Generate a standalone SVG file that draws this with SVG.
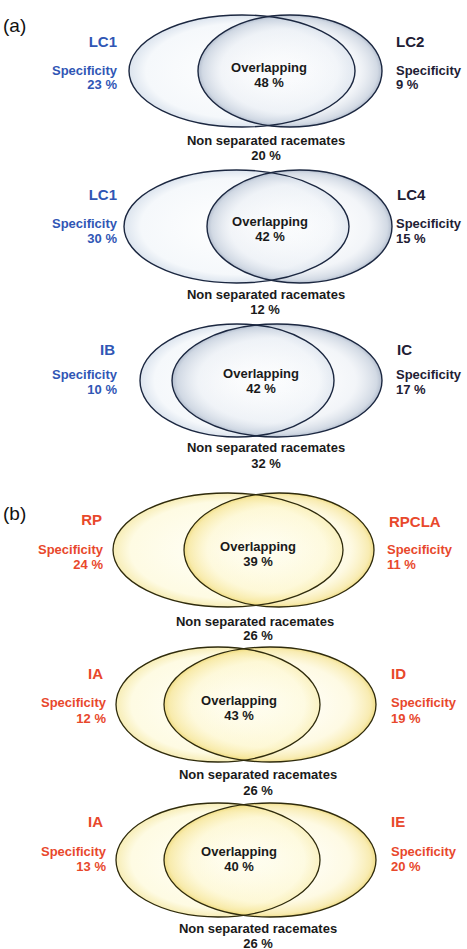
<svg xmlns="http://www.w3.org/2000/svg" width="467" height="949" viewBox="0 0 467 949">
<defs>
<radialGradient id="bL" cx="50%" cy="50%" r="50%">
<stop offset="0" stop-color="#ffffff"/>
<stop offset="0.85" stop-color="#f5f8fb"/>
<stop offset="1" stop-color="#dce4ee"/>
</radialGradient>
<radialGradient id="bR" cx="50%" cy="50%" r="50%">
<stop offset="0" stop-color="#ffffff" stop-opacity="0.2"/>
<stop offset="0.75" stop-color="#e6ebf2" stop-opacity="0.5"/>
<stop offset="0.95" stop-color="#c3cddb" stop-opacity="0.75"/>
<stop offset="1" stop-color="#a6b2c5" stop-opacity="0.85"/>
</radialGradient>
<radialGradient id="yL" cx="50%" cy="50%" r="50%">
<stop offset="0" stop-color="#fffffa"/>
<stop offset="0.85" stop-color="#fefbe3"/>
<stop offset="1" stop-color="#f7edb6"/>
</radialGradient>
<radialGradient id="yR" cx="50%" cy="50%" r="50%">
<stop offset="0" stop-color="#fffef0" stop-opacity="0.2"/>
<stop offset="0.75" stop-color="#fdf5c8" stop-opacity="0.5"/>
<stop offset="0.95" stop-color="#f5e390" stop-opacity="0.7"/>
<stop offset="1" stop-color="#ecd46a" stop-opacity="0.8"/>
</radialGradient>
</defs>
<style>
text{font-family:"Liberation Sans",Arial,sans-serif;font-weight:bold;font-size:13px;}
.panel{font-weight:normal;font-size:19px;fill:#111;}
.lab{font-size:15px;}
.blue{fill:#3056b5;}
.navy{fill:#1e2034;}
.red{fill:#e8482c;}
.dark{fill:#1a1a1a;text-anchor:middle;}
.e{text-anchor:end;}
.bs{fill:none;stroke:#1b2740;stroke-width:1.4;}
.ys{fill:none;stroke:#2f2b0c;stroke-width:1.3;}
</style>
<rect width="467" height="949" fill="#ffffff"/>
<text class="panel" x="3" y="32">(a)</text>
<text class="panel" x="3" y="520">(b)</text>

<g id="d1">
<g id="d1-LC1"><ellipse cx="242" cy="71" rx="113" ry="56" fill="url(#bL)"/>
<text class="blue lab e" x="117" y="47">LC1</text>
<text class="blue e" x="117" y="74.5">Specificity</text>
<text class="blue e" x="117" y="88.5">23 %</text></g>
<g id="d1-LC2"><ellipse cx="290" cy="71" rx="92" ry="56" fill="url(#bR)"/>
<text class="navy lab" x="396" y="47">LC2</text>
<text class="navy" x="396" y="74.5">Specificity</text>
<text class="navy" x="396" y="88.5">9 %</text></g>
<ellipse class="bs" cx="242" cy="71" rx="113" ry="56"/>
<ellipse class="bs" cx="290" cy="71" rx="92" ry="56"/>
<text class="dark" x="269" y="71.5">Overlapping</text>
<text class="dark" x="269" y="86.5">48 %</text>
<text class="dark" x="266" y="144.5">Non separated racemates</text>
<text class="dark" x="266" y="159.5">20 %</text>
</g>

<g id="d2">
<g id="d2-LC1"><ellipse cx="236.5" cy="226.5" rx="112.5" ry="56.5" fill="url(#bL)"/>
<text class="blue lab e" x="117" y="200">LC1</text>
<text class="blue e" x="117" y="227.5">Specificity</text>
<text class="blue e" x="117" y="242.5">30 %</text></g>
<g id="d2-LC4"><ellipse cx="299.5" cy="226.5" rx="92.5" ry="56.5" fill="url(#bR)"/>
<text class="navy lab" x="397" y="200">LC4</text>
<text class="navy" x="396" y="227.5">Specificity</text>
<text class="navy" x="396" y="242.5">15 %</text></g>
<ellipse class="bs" cx="236.5" cy="226.5" rx="112.5" ry="56.5"/>
<ellipse class="bs" cx="299.5" cy="226.5" rx="92.5" ry="56.5"/>
<text class="dark" x="270" y="225.5">Overlapping</text>
<text class="dark" x="270" y="240.5">42 %</text>
<text class="dark" x="266" y="298.5">Non separated racemates</text>
<text class="dark" x="265" y="313.5">12 %</text>
</g>

<g id="d3">
<g id="d3-IB"><ellipse cx="237" cy="380.5" rx="97" ry="56.5" fill="url(#bL)"/>
<text class="blue lab e" x="115" y="355">IB</text>
<text class="blue e" x="117" y="378.5">Specificity</text>
<text class="blue e" x="117" y="393.5">10 %</text></g>
<g id="d3-IC"><ellipse cx="277" cy="380.5" rx="105" ry="56.5" fill="url(#bR)"/>
<text class="navy lab" x="397" y="355">IC</text>
<text class="navy" x="396" y="378.5">Specificity</text>
<text class="navy" x="396" y="393.5">17 %</text></g>
<ellipse class="bs" cx="237" cy="380.5" rx="97" ry="56.5"/>
<ellipse class="bs" cx="277" cy="380.5" rx="105" ry="56.5"/>
<text class="dark" x="261" y="377.5">Overlapping</text>
<text class="dark" x="261" y="392.5">42 %</text>
<text class="dark" x="266" y="451.5">Non separated racemates</text>
<text class="dark" x="266" y="467.5">32 %</text>
</g>

<g id="d4">
<g id="d4-RP"><ellipse cx="228" cy="550" rx="115" ry="57" fill="url(#yL)"/>
<text class="red lab e" x="102" y="525">RP</text>
<text class="red e" x="103" y="553.5">Specificity</text>
<text class="red e" x="103" y="568.5">24 %</text></g>
<g id="d4-RPCLA"><ellipse cx="279" cy="550" rx="95" ry="57" fill="url(#yR)"/>
<text class="red lab" x="389" y="527">RPCLA</text>
<text class="red" x="387" y="553.5">Specificity</text>
<text class="red" x="387" y="568.5">11 %</text></g>
<ellipse class="ys" cx="228" cy="550" rx="115" ry="57"/>
<ellipse class="ys" cx="279" cy="550" rx="95" ry="57"/>
<text class="dark" x="258" y="550.5">Overlapping</text>
<text class="dark" x="258" y="565.5">39 %</text>
<text class="dark" x="255" y="625.5">Non separated racemates</text>
<text class="dark" x="258" y="639.5">26 %</text>
</g>

<g id="d5">
<g id="d5-IA"><ellipse cx="218" cy="704.5" rx="102" ry="57.5" fill="url(#yL)"/>
<text class="red lab e" x="103" y="679">IA</text>
<text class="red e" x="106" y="706.5">Specificity</text>
<text class="red e" x="106" y="722.5">12 %</text></g>
<g id="d5-ID"><ellipse cx="270" cy="704.5" rx="106" ry="57.5" fill="url(#yR)"/>
<text class="red lab" x="391" y="679">ID</text>
<text class="red" x="391" y="706.5">Specificity</text>
<text class="red" x="391" y="722.5">19 %</text></g>
<ellipse class="ys" cx="218" cy="704.5" rx="102" ry="57.5"/>
<ellipse class="ys" cx="270" cy="704.5" rx="106" ry="57.5"/>
<text class="dark" x="239" y="704.5">Overlapping</text>
<text class="dark" x="239" y="719.5">43 %</text>
<text class="dark" x="258" y="778.5">Non separated racemates</text>
<text class="dark" x="258" y="794.5">26 %</text>
</g>

<g id="d6">
<g id="d6-IA"><ellipse cx="218" cy="860" rx="102" ry="57" fill="url(#yL)"/>
<text class="red lab e" x="103" y="827">IA</text>
<text class="red e" x="106" y="855.5">Specificity</text>
<text class="red e" x="106" y="870.5">13 %</text></g>
<g id="d6-IE"><ellipse cx="270" cy="860" rx="106" ry="57" fill="url(#yR)"/>
<text class="red lab" x="391" y="827">IE</text>
<text class="red" x="391" y="855.5">Specificity</text>
<text class="red" x="391" y="870.5">20 %</text></g>
<ellipse class="ys" cx="218" cy="860" rx="102" ry="57"/>
<ellipse class="ys" cx="270" cy="860" rx="106" ry="57"/>
<text class="dark" x="239" y="855.5">Overlapping</text>
<text class="dark" x="239" y="870.5">40 %</text>
<text class="dark" x="258" y="932.5">Non separated racemates</text>
<text class="dark" x="258" y="947.5">26 %</text>
</g>
</svg>
